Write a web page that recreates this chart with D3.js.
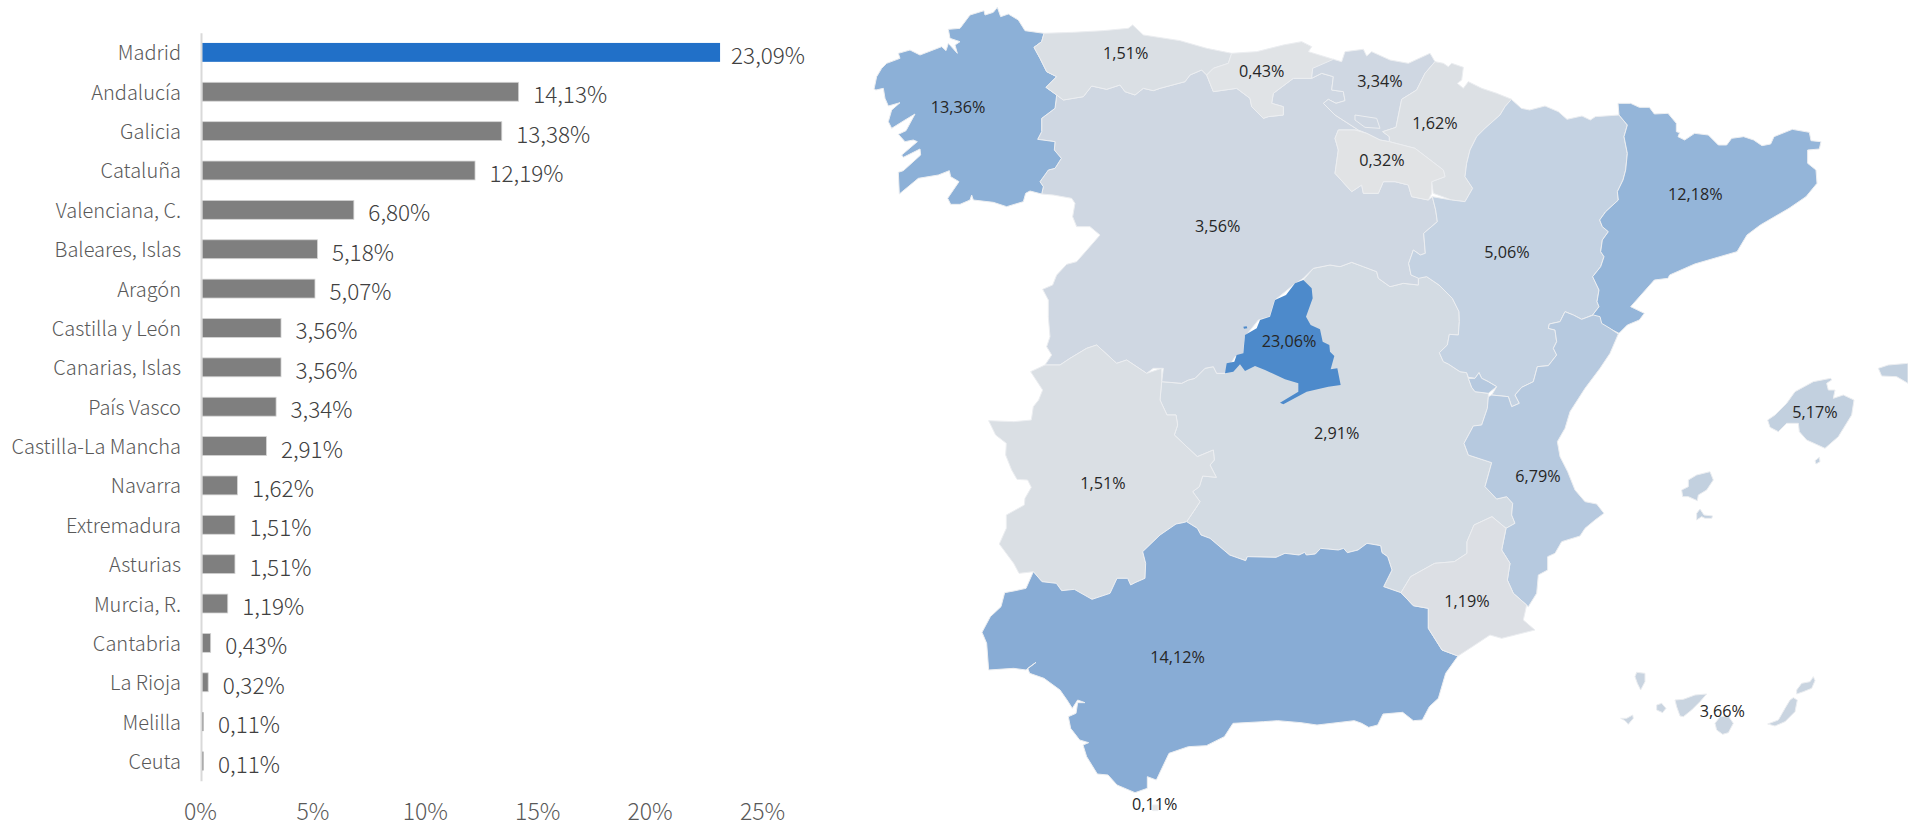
<!DOCTYPE html>
<html lang="es">
<head>
<meta charset="utf-8">
<title>Distribución por comunidades</title>
<script src="https://cdn.jsdelivr.net/npm/d3@7/dist/d3.min.js"></script>
<style>
html,body{margin:0;padding:0;background:#fff;overflow:hidden}
svg{display:block}
.bar-text{font-family:"Noto Sans CJK JP","Noto Sans",sans-serif}
.map-label{font-family:"Open Sans",sans-serif;font-size:16.2px;fill:#262626;text-anchor:middle;dominant-baseline:central}
</style>
</head>
<body>
<svg id="chart" width="1908" height="822"></svg>
<script>
// ---------- bar chart data ----------
const barCategories = ["Madrid","Andalucía","Galicia","Cataluña","Valenciana, C.","Baleares, Islas","Aragón","Castilla y León","Canarias, Islas","País Vasco","Castilla-La Mancha","Navarra","Extremadura","Asturias","Murcia, R.","Cantabria","La Rioja","Melilla","Ceuta"];
const barValues = [23.09,14.13,13.38,12.19,6.80,5.18,5.07,3.56,3.56,3.34,2.91,1.62,1.51,1.51,1.19,0.43,0.32,0.11,0.11];
const axisTicks = [0,5,10,15,20,25];

// ---------- map data (outlines in map units) ----------
const galicia = [[412,22],[422,50],[445,42],[475,60],[495,92],[552,100],[545,125],[522,142],[540,175],[560,215],[590,230],[558,262],[590,285],[585,325],[545,355],[545,395],[533,418],[585,425],[583,450],[604,475],[585,505],[565,510],[540,545],[550,560],[545,582],[510,573],[497,580],[490,605],[440,620],[400,607],[340,600],[335,585],[330,600],[300,613],[272,613],[263,595],[297,545],[272,530],[268,512],[235,525],[175,535],[118,582],[115,517],[130,512],[182,465],[180,447],[130,472],[125,465],[172,425],[160,420],[135,425],[115,403],[138,392],[165,342],[135,360],[95,385],[85,365],[95,330],[120,308],[85,318],[75,295],[70,265],[48,270],[42,268],[50,230],[65,205],[80,190],[120,175],[115,160],[150,150],[180,165],[245,140],[258,152],[265,130],[292,160],[285,135],[300,125],[270,115],[265,88],[300,85],[330,45],[372,32],[375,45],[400,37]];
const asturias = [[552,100],[640,97],[730,92],[805,85],[818,75],[850,105],[960,122],[1040,145],[1115,160],[1105,190],[1060,205],[1040,225],[1025,210],[990,225],[975,245],[900,265],[880,272],[850,265],[825,285],[795,275],[780,255],[740,268],[695,258],[670,290],[610,300],[590,285],[558,262],[590,230],[560,215],[540,175],[522,142],[545,125]];
const cantabria = [[1115,160],[1190,155],[1270,135],[1325,125],[1355,140],[1345,155],[1420,178],[1400,195],[1358,205],[1355,235],[1300,235],[1240,280],[1235,310],[1270,320],[1270,345],[1225,350],[1210,355],[1175,320],[1170,295],[1130,265],[1060,275],[1040,225],[1060,205],[1105,190]];
const castillaLeon = [[545,582],[550,560],[540,545],[565,510],[585,505],[604,475],[583,450],[585,425],[533,418],[545,395],[545,355],[585,325],[590,285],[610,300],[670,290],[695,258],[740,268],[780,255],[795,275],[825,285],[850,265],[880,272],[900,265],[975,245],[990,225],[1025,210],[1040,225],[1060,275],[1130,265],[1170,295],[1175,320],[1210,355],[1225,350],[1270,345],[1270,320],[1235,310],[1240,280],[1300,235],[1355,235],[1385,220],[1420,230],[1415,270],[1450,275],[1455,302],[1428,310],[1405,298],[1390,310],[1425,345],[1495,390],[1435,390],[1425,415],[1435,450],[1425,520],[1475,575],[1505,555],[1510,580],[1555,580],[1570,545],[1605,545],[1645,555],[1655,590],[1705,600],[1717,590],[1727,630],[1732,665],[1691,700],[1696,760],[1681,765],[1660,750],[1646,790],[1653,825],[1675,832],[1675,855],[1630,850],[1590,860],[1555,835],[1550,815],[1510,800],[1475,787],[1440,800],[1410,795],[1360,805],[1330,835],[1300,855],[1245,900],[1230,950],[1195,960],[1155,1010],[1150,1065],[1125,1070],[1095,1120],[1070,1120],[1060,1100],[1035,1105],[1005,1135],[985,1140],[965,1150],[905,1145],[910,1105],[880,1105],[860,1120],[800,1080],[770,1090],[710,1035],[680,1045],[630,1075],[600,1095],[555,1095],[575,1065],[560,1040],[570,1010],[565,950],[565,900],[548,868],[578,855],[590,825],[620,793],[650,785],[720,705],[690,680],[650,680],[638,650],[645,610],[635,595],[580,585]];
const paisVasco = [[1420,178],[1445,185],[1455,155],[1510,148],[1520,168],[1535,155],[1590,180],[1645,190],[1710,160],[1725,185],[1695,220],[1670,270],[1625,298],[1608,382],[1568,395],[1588,410],[1588,425],[1560,420],[1520,400],[1495,390],[1425,345],[1390,310],[1405,298],[1428,310],[1455,302],[1450,275],[1415,270],[1420,230],[1385,220],[1355,235],[1358,205]];
const trevino = [[1485,345],[1550,355],[1560,385],[1515,382],[1485,360]];
const villaverde = [[1382,200],[1392,215],[1380,220]];
const navarra = [[1725,185],[1750,190],[1765,200],[1775,190],[1810,202],[1805,240],[1792,250],[1810,265],[1825,245],[1865,265],[1910,280],[1955,298],[1935,320],[1920,345],[1875,385],[1850,410],[1830,450],[1820,490],[1815,530],[1838,565],[1815,605],[1775,600],[1720,580],[1715,545],[1755,530],[1750,510],[1665,445],[1588,425],[1588,410],[1568,395],[1608,382],[1625,298],[1670,270],[1695,220]];
const petilla = [[1865,445],[1875,432],[1892,445],[1870,452]];
const laRioja = [[1435,390],[1485,390],[1520,400],[1560,420],[1588,425],[1665,445],[1750,510],[1755,530],[1715,545],[1715,580],[1705,600],[1655,590],[1645,555],[1605,545],[1570,545],[1555,580],[1510,580],[1505,555],[1475,575],[1425,520],[1435,450],[1425,415]];
const aragon = [[1954,298],[1984,325],[2009,330],[2055,318],[2095,335],[2121,358],[2166,348],[2191,360],[2206,350],[2277,345],[2302,375],[2292,410],[2302,460],[2297,510],[2289,540],[2272,575],[2275,600],[2237,635],[2219,660],[2227,680],[2245,695],[2227,720],[2222,755],[2232,770],[2222,800],[2198,830],[2217,870],[2211,905],[2217,920],[2198,945],[2165,958],[2140,945],[2115,935],[2100,965],[2068,972],[2065,985],[2085,990],[2090,1025],[2080,1045],[2090,1065],[2065,1097],[2032,1100],[2020,1145],[1985,1162],[1965,1185],[1978,1210],[1955,1220],[1945,1190],[1895,1185],[1910,1160],[1885,1145],[1865,1135],[1857,1118],[1845,1135],[1825,1132],[1820,1118],[1800,1115],[1765,1092],[1750,1085],[1738,1058],[1762,1035],[1768,1003],[1795,1005],[1798,965],[1797,935],[1777,895],[1737,855],[1700,830],[1676,835],[1653,825],[1646,790],[1660,750],[1681,765],[1696,760],[1691,700],[1732,665],[1727,630],[1717,590],[1775,600],[1815,605],[1838,565],[1815,530],[1820,490],[1830,450],[1850,410],[1875,385],[1920,345],[1935,320]];
const cataluna = [[2274,310],[2312,310],[2338,322],[2368,322],[2383,342],[2424,340],[2449,370],[2449,395],[2459,398],[2454,410],[2474,420],[2504,400],[2545,405],[2575,435],[2600,435],[2615,415],[2651,410],[2681,420],[2706,437],[2732,432],[2742,410],[2797,388],[2848,397],[2853,422],[2883,425],[2878,447],[2843,450],[2843,490],[2868,510],[2871,550],[2838,590],[2787,625],[2701,675],[2661,705],[2631,755],[2504,792],[2429,825],[2424,835],[2383,840],[2312,920],[2353,940],[2338,960],[2302,975],[2277,1000],[2227,975],[2198,945],[2217,920],[2211,905],[2217,870],[2198,830],[2222,800],[2232,770],[2222,755],[2227,720],[2245,695],[2227,680],[2219,660],[2237,635],[2275,600],[2272,575],[2289,540],[2297,510],[2302,460],[2292,410],[2302,375],[2277,345]];
const valencia = [[2200,945],[2220,950],[2225,970],[2250,985],[2275,1002],[2250,1060],[2220,1105],[2175,1165],[2130,1235],[2115,1285],[2092,1325],[2100,1370],[2123,1415],[2145,1470],[2175,1505],[2210,1512],[2232,1540],[2205,1560],[2175,1585],[2160,1608],[2105,1625],[2085,1660],[2063,1670],[2063,1710],[2035,1725],[2030,1780],[2005,1820],[1960,1780],[1942,1740],[1950,1690],[1925,1650],[1938,1585],[1965,1570],[1955,1545],[1958,1510],[1940,1490],[1910,1497],[1875,1460],[1895,1388],[1825,1365],[1812,1330],[1840,1278],[1865,1275],[1882,1225],[1885,1190],[1895,1185],[1945,1190],[1955,1220],[1978,1210],[1965,1185],[1985,1162],[2020,1145],[2032,1100],[2065,1097],[2090,1065],[2080,1045],[2090,1025],[2085,990],[2065,985],[2068,972],[2100,965],[2115,935],[2140,945],[2165,958]];
const ademuz = [[1825,1135],[1845,1135],[1857,1118],[1865,1135],[1885,1145],[1910,1160],[1885,1180],[1845,1175],[1835,1162]];
const castillaMancha = [[905,1145],[965,1150],[985,1140],[1005,1135],[1035,1105],[1060,1100],[1070,1120],[1095,1120],[1230,1000],[1330,840],[1360,805],[1410,795],[1440,800],[1475,787],[1510,800],[1550,815],[1555,835],[1590,860],[1630,850],[1675,855],[1675,832],[1700,830],[1737,855],[1777,895],[1797,935],[1798,965],[1795,1005],[1768,1003],[1762,1035],[1738,1058],[1750,1085],[1765,1092],[1800,1115],[1820,1118],[1825,1135],[1835,1162],[1845,1175],[1885,1180],[1885,1190],[1882,1225],[1865,1275],[1840,1278],[1812,1330],[1825,1365],[1895,1388],[1875,1460],[1910,1497],[1940,1490],[1958,1510],[1955,1545],[1965,1570],[1938,1585],[1896,1550],[1842,1575],[1821,1625],[1821,1660],[1783,1685],[1724,1690],[1652,1730],[1623,1778],[1571,1760],[1596,1710],[1583,1670],[1566,1658],[1562,1637],[1521,1630],[1494,1650],[1462,1658],[1451,1645],[1435,1650],[1382,1645],[1366,1662],[1339,1665],[1334,1657],[1317,1665],[1275,1660],[1248,1672],[1162,1670],[1157,1682],[1109,1665],[1050,1615],[1023,1605],[1012,1585],[980,1565],[1007,1525],[1020,1505],[998,1475],[1018,1460],[1028,1428],[1069,1432],[1050,1395],[1063,1380],[1060,1350],[1012,1370],[943,1305],[953,1275],[948,1245],[921,1245],[900,1200]];
const madrid = [[1330,840],[1355,865],[1358,895],[1338,950],[1352,975],[1380,988],[1388,1025],[1408,1035],[1410,1055],[1423,1068],[1412,1108],[1432,1105],[1442,1155],[1405,1160],[1340,1175],[1270,1213],[1260,1208],[1315,1175],[1315,1150],[1275,1138],[1215,1110],[1185,1098],[1155,1113],[1140,1093],[1120,1115],[1095,1120],[1100,1090],[1123,1085],[1130,1065],[1150,1060],[1155,1005],[1190,985],[1200,960],[1230,950],[1245,900],[1278,885],[1305,850]];
const madridDot = [[1150,980],[1160,979],[1162,985],[1152,986]];
const extremadura = [[900,1200],[921,1245],[948,1245],[953,1275],[943,1305],[1012,1370],[1060,1350],[1063,1380],[1050,1395],[1069,1432],[1028,1428],[1018,1460],[998,1475],[1020,1505],[1007,1525],[980,1565],[969,1568],[948,1572],[900,1605],[848,1655],[857,1690],[855,1735],[825,1748],[812,1755],[803,1735],[771,1735],[750,1780],[696,1798],[643,1768],[605,1772],[589,1750],[546,1745],[520,1715],[477,1720],[461,1690],[418,1632],[439,1585],[439,1545],[493,1515],[495,1495],[514,1462],[503,1440],[471,1438],[455,1410],[437,1365],[439,1330],[407,1305],[386,1262],[461,1265],[514,1260],[520,1220],[536,1200],[548,1170],[512,1115],[555,1095],[600,1095],[630,1075],[680,1045],[710,1035],[770,1090],[800,1080],[860,1120],[905,1105],[905,1145]];
const andalucia = [[980,1565],[1012,1585],[1023,1605],[1050,1615],[1109,1665],[1157,1682],[1162,1670],[1248,1672],[1275,1660],[1317,1665],[1334,1657],[1339,1665],[1366,1662],[1382,1645],[1435,1650],[1451,1645],[1462,1658],[1494,1650],[1521,1630],[1562,1637],[1566,1658],[1583,1670],[1596,1710],[1571,1760],[1623,1778],[1660,1817],[1705,1825],[1705,1885],[1746,1950],[1794,1968],[1757,2020],[1735,2095],[1708,2120],[1687,2160],[1660,2162],[1628,2137],[1569,2142],[1553,2175],[1526,2182],[1505,2170],[1483,2162],[1371,2175],[1323,2168],[1253,2162],[1210,2165],[1119,2170],[1093,2210],[1039,2237],[985,2240],[927,2260],[889,2340],[862,2330],[862,2365],[825,2378],[771,2355],[744,2325],[712,2322],[680,2270],[669,2235],[686,2228],[659,2220],[632,2185],[625,2150],[648,2140],[653,2108],[675,2108],[653,2100],[637,2125],[621,2100],[600,2070],[552,2035],[509,2020],[503,2005],[528,1987],[498,2010],[461,2005],[386,2010],[380,1930],[366,1897],[391,1850],[423,1820],[434,1778],[466,1772],[498,1765],[520,1715],[546,1745],[589,1750],[605,1772],[643,1768],[696,1798],[750,1780],[771,1735],[803,1735],[812,1755],[825,1748],[855,1735],[857,1690],[848,1655],[900,1605],[948,1572],[969,1568]];
const murcia = [[1623,1778],[1652,1730],[1724,1690],[1783,1685],[1821,1660],[1821,1625],[1842,1575],[1896,1550],[1938,1585],[1925,1650],[1950,1690],[1942,1740],[1960,1780],[2000,1815],[1990,1860],[2025,1890],[1965,1905],[1925,1915],[1890,1905],[1837,1940],[1794,1968],[1746,1950],[1705,1885],[1705,1825],[1660,1817]];
const mallorca = [[2912,1135],[2915,1140],[2900,1150],[2905,1170],[2925,1170],[2920,1195],[2950,1185],[2982,1200],[2975,1245],[2935,1310],[2895,1345],[2840,1320],[2818,1295],[2815,1270],[2780,1270],[2755,1295],[2730,1282],[2723,1260],[2745,1245],[2780,1210],[2805,1175],[2860,1145]];
const menorca = [[3055,1105],[3085,1095],[3144,1090],[3144,1150],[3110,1130],[3065,1128]];
const ibiza = [[2510,1425],[2550,1415],[2560,1440],[2540,1470],[2515,1485],[2512,1502],[2485,1490],[2468,1490],[2465,1470],[2485,1460],[2485,1440]];
const formentera = [[2520,1527],[2532,1545],[2558,1548],[2555,1555],[2535,1555],[2525,1550],[2510,1560],[2510,1540]];
const cabrera = [[2878,1372],[2880,1385],[2868,1392],[2865,1382]];
const laPalma = [[2330,2017],[2355,2020],[2355,2045],[2342,2070],[2332,2050],[2325,2030]];
const gomera = [[2390,2115],[2405,2110],[2418,2125],[2408,2138],[2390,2130]];
const hierro = [[2282,2155],[2300,2155],[2318,2145],[2320,2155],[2305,2173],[2295,2162]];
const tenerife = [[2445,2100],[2470,2098],[2505,2085],[2540,2082],[2520,2105],[2495,2130],[2470,2150],[2460,2148],[2450,2120]];
const granCanaria = [[2565,2170],[2580,2150],[2605,2148],[2620,2170],[2605,2198],[2588,2203],[2570,2190]];
const fuerteventura = [[2800,2093],[2812,2100],[2805,2135],[2775,2165],[2745,2178],[2723,2172],[2755,2160],[2775,2125],[2790,2100]];
const lanzarote = [[2810,2070],[2825,2050],[2850,2045],[2860,2030],[2865,2042],[2855,2065],[2830,2075],[2810,2082]];
const ceutaShape = [[878,2415],[894,2415],[894,2432],[878,2432]];

const mapRegions = [
  {name:"Castilla-La Mancha", rings:[castillaMancha], fill:"#d3dbe3"},
  {name:"Castilla y León", rings:[castillaLeon], fill:"#cfd7e2"},
  {name:"Galicia", rings:[galicia], fill:"#8cb0d7"},
  {name:"Asturias", rings:[asturias], fill:"#dadfe4"},
  {name:"Cantabria", rings:[cantabria,villaverde], fill:"#e0e3e6"},
  {name:"País Vasco", rings:[paisVasco], fill:"#cfd7e2"},
  {name:"Treviño", rings:[trevino], fill:"#cfd7e2"},
  {name:"Navarra", rings:[navarra,petilla], fill:"#dce0e4"},
  {name:"La Rioja", rings:[laRioja], fill:"#e1e3e5"},
  {name:"Aragón", rings:[aragon], fill:"#c4d2e2"},
  {name:"Cataluña", rings:[cataluna], fill:"#94b5d9"},
  {name:"Valenciana, C.", rings:[valencia,ademuz], fill:"#b6c9df"},
  {name:"Extremadura", rings:[extremadura], fill:"#dadfe4"},
  {name:"Andalucía", rings:[andalucia], fill:"#88acd5"},
  {name:"Murcia, R.", rings:[murcia], fill:"#dcdfe4"},
  {name:"Baleares, Islas", rings:[mallorca,menorca,ibiza,formentera,cabrera], fill:"#c2d0df"},
  {name:"Canarias, Islas", rings:[laPalma,gomera,hierro,tenerife,granCanaria,fuerteventura,lanzarote], fill:"#c9d4e0"},
  {name:"Ceuta", rings:[ceutaShape], fill:"#e6e6e6"},
  {name:"Madrid", rings:[madrid,madridDot], fill:"#4d8acb"}
];

const mapLabelTexts = ["13,36%","1,51%","0,43%","3,34%","1,62%","0,32%","12,18%","5,06%","3,56%","23,06%","2,91%","1,51%","14,12%","1,19%","6,79%","5,17%","3,66%","0,11%"];
const mapLabelAnchors = [[294,322],[797,160],[1205,213],[1560,243],[1725,369],[1566,480],[2506,582],[1941,755],[1073,677],[1287,1022],[1430,1300],[729,1450],[953,1970],[1821,1802],[2034,1428],[2865,1236],[2587,2132],[884,2413]];

// ---------- drawing ----------
const svg = d3.select("#chart");
const comma = v => v.toFixed(2).replace(".", ",") + "%";

const x = d3.scaleLinear().domain([0,25]).range([201,763]);
const y = d3.scaleBand().domain(barCategories).range([32.7,780.7]).paddingInner(0.52).paddingOuter(0.26);

const bars = svg.append("g");
bars.selectAll("rect").data(barCategories).join("rect")
  .attr("x", x(0)+1)
  .attr("y", d => y(d))
  .attr("width", (d,i) => Math.max(0, x(barValues[i]) - x(0) - 1))
  .attr("height", y.bandwidth())
  .attr("fill", (d,i) => i===0 ? "#2170c8" : "#7f7f7f")
  .attr("stroke", (d,i) => (i===0 || barValues[i] < 0.2) ? "none" : "#d4d4d4")
  .attr("stroke-width", 0.8);

// category axis
const yAxis = svg.append("g").attr("transform", `translate(${x(0)},0)`)
  .call(d3.axisLeft(y).tickSize(0).tickPadding(20));
yAxis.select(".domain").attr("stroke","#d9d9d9").attr("stroke-width",2);
yAxis.selectAll("text").attr("class","bar-text").attr("dy","0.4em")
  .style("font-size","20px").style("fill","#595959").style("font-weight",300);

// value axis
const xAxis = svg.append("g").attr("transform","translate(0,804)")
  .call(d3.axisBottom(x).tickValues(axisTicks).tickSize(0).tickPadding(0).tickFormat(d => d + "%"));
xAxis.select(".domain").remove();
xAxis.selectAll("text").attr("class","bar-text")
  .attr("dx",-1).style("font-size","23px").style("fill","#595959").style("font-weight",300);

// value labels
svg.append("g").selectAll("text").data(barValues).join("text")
  .attr("class","bar-text")
  .attr("x", (d,i) => x(d) + (i===0 ? 11 : 14.5))
  .attr("y", (d,i) => y(barCategories[i]) + y.bandwidth()/2 + 1.5)
  .attr("dominant-baseline","central")
  .style("font-size","22.5px").style("fill","#404040").style("font-weight",300)
  .text(comma);

// map
const mapX = d3.scaleLinear().domain([0,3144]).range([860,1908]);
const mapY = d3.scaleLinear().domain([0,2466]).range([0,822]);
const ringPath = d3.line().x(p => mapX(p[0])).y(p => mapY(p[1]));

svg.append("g").selectAll("path").data(mapRegions).join("path")
  .attr("d", r => r.rings.map(ring => ringPath(ring) + "Z").join(""))
  .attr("fill", r => r.fill)
  .attr("stroke", r => r.name === "Madrid" ? "none" : "#eceef1")
  .attr("stroke-width", 1)
  .attr("stroke-linejoin", "round");

svg.append("g").selectAll("text").data(mapLabelTexts).join("text")
  .attr("class","map-label")
  .attr("x", (d,i) => mapX(mapLabelAnchors[i][0]))
  .attr("y", (d,i) => mapY(mapLabelAnchors[i][1]))
  .text(d => d);
</script>
</body>
</html>
